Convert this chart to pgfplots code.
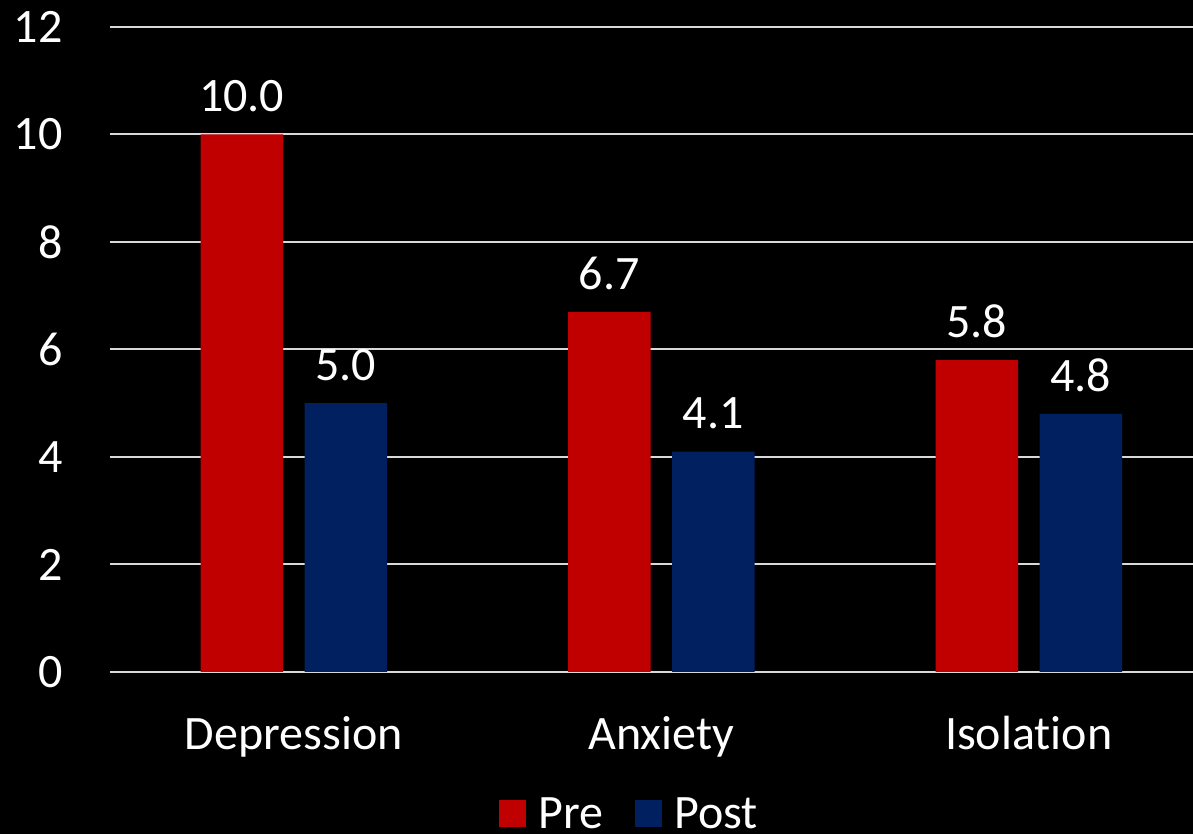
\documentclass[border=0pt]{standalone}
\usepackage{pgfplots}
\pgfplotsset{compat=1.18}
\usepackage{fontspec}
\setmainfont{Carlito}[Ligatures=CommonOff]
\definecolor{prered}{HTML}{C00000}
\definecolor{postblue}{HTML}{002060}
\definecolor{gridgray}{HTML}{D9D9D9}
\begin{document}
\begin{tikzpicture}
\useasboundingbox (0,0) rectangle (596.5pt,417pt);
\fill[black] (0,0) rectangle (596.5pt,417pt);
\clip (0,0) rectangle (596.5pt,417pt);
\begin{axis}[
  at={(55pt,81pt)}, anchor=south west,
  scale only axis, width=551.25pt, height=322.5pt,
  xmin=-0.5, xmax=2.5, ymin=0, ymax=12,
  ybar, bar width=41.25pt,
  xtick={0,1,2}, xticklabels={Depression,Anxiety,Isolation},
  ytick={0,2,4,6,8,10,12},
  ymajorgrids, major grid style={gridgray, line width=1pt},
  axis line style={draw=none},
  major tick length=0pt,
  /pgf/number format/assume math mode=true,
  tick label style={font=\fontsize{24}{28}\selectfont, text=white},
  yticklabel style={anchor=east, inner sep=0pt, xshift=-23.5pt},
  xticklabel style={anchor=base, inner sep=0pt, yshift=-39pt},
  nodes near coords,
  nodes near coords style={font=\fontsize{24}{28}\selectfont, text=white, inner sep=0pt, anchor=south, yshift=11pt,
    /pgf/number format/.cd, fixed, fixed zerofill, precision=1, assume math mode=true},
  legend columns=-1,
  legend style={at={(axis description cs:0.3528,-0.2210)}, anchor=west, draw=none, fill=none,
    text=white, font=\fontsize{24}{28}\selectfont, inner sep=0pt,
    /tikz/every even column/.append style={column sep=14pt},
    /tikz/every odd column/.append style={column sep=4pt}},
  legend image code/.code={\fill[#1] (0pt,-6pt) rectangle (13.5pt,7.5pt);},
]
\addplot[fill=prered, draw=none, bar shift=-26pt] coordinates {(0,10.0) (1,6.7) (2,5.8)};
\addplot[fill=postblue, draw=none, bar shift=26pt] coordinates {(0,5.0) (1,4.1) (2,4.8)};
\legend{Pre,Post}
\end{axis}
\end{tikzpicture}
\end{document}
